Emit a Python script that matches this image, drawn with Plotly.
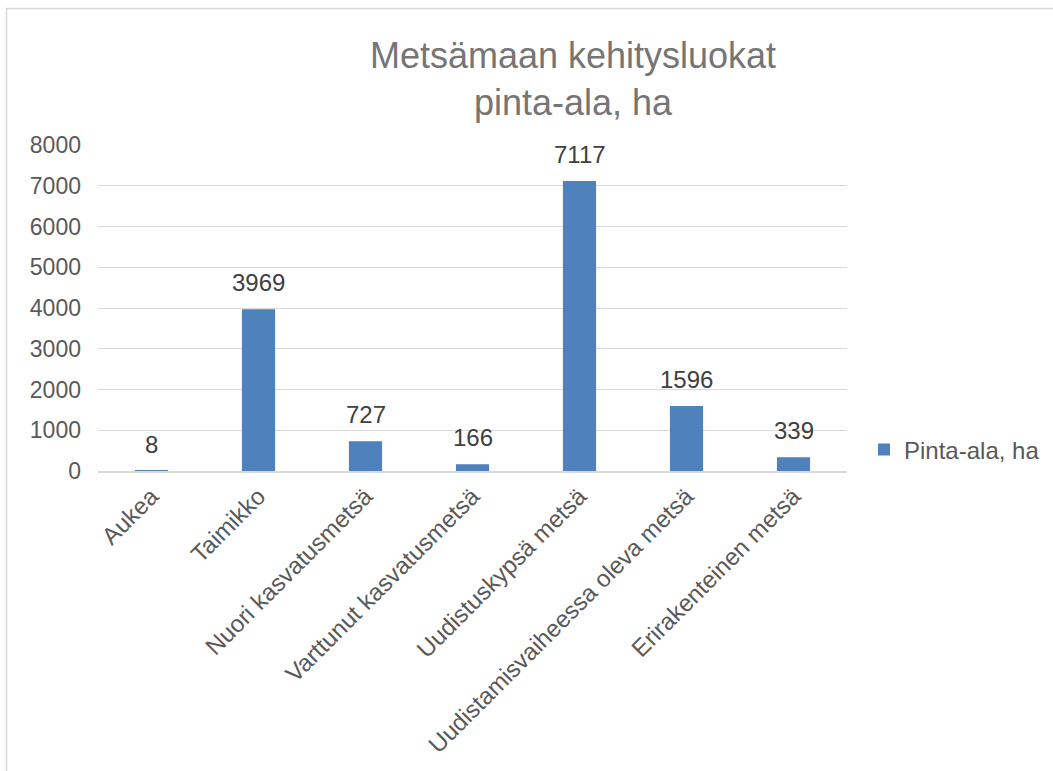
import plotly.graph_objects as go

categories = ["Aukea", "Taimikko", "Nuori kasvatusmetsä", "Varttunut kasvatusmetsä",
              "Uudistuskypsä metsä", "Uudistamisvaiheessa oleva metsä", "Erirakenteinen metsä"]
values = [8, 3969, 727, 166, 7117, 1596, 339]
series_name = "Pinta-ala, ha"
title_lines = ["Metsämaan kehitysluokat", "pinta-ala, ha"]
y_ticks = [0, 1000, 2000, 3000, 4000, 5000, 6000, 7000, 8000]

W, H = 1053, 771
L, R, T, B = 98, 206, 145, 300
pw, ph = W - L - R, H - T - B

FONT = "Liberation Sans, Arial, sans-serif"
bar_color = "#4F81BD"

fig = go.Figure()
fig.add_trace(go.Bar(
    x=categories, y=values, name=series_name,
    marker=dict(color=bar_color, line=dict(width=0)),
    width=0.31,
))

annotations = []
for c, v in zip(categories, values):
    annotations.append(dict(x=c, y=v, xref="x", yref="y", text=str(v), showarrow=False,
                            yanchor="bottom", yshift=11,
                            font=dict(family=FONT, size=24, color="#404040")))

def px_to_paper_x(px):
    return (px - L) / pw

def px_to_paper_y(py):
    return (H - B - py) / ph

shapes = [dict(type="path", xref="paper", yref="paper",
               path=f"M {px_to_paper_x(6.5)} {px_to_paper_y(771)} L {px_to_paper_x(6.5)} {px_to_paper_y(8.5)} L {px_to_paper_x(1053)} {px_to_paper_y(8.5)}",
               line=dict(color="#D9D9D9", width=1.5), layer="below")]

fig.update_layout(
    width=W, height=H,
    margin=dict(l=L, r=R, t=T, b=B, autoexpand=False),
    paper_bgcolor="white", plot_bgcolor="white",
    font=dict(family=FONT, size=23, color="#595959"),
    title=dict(text="<br>".join(title_lines), x=573 / W, xanchor="center", xref="container",
               y=1 - 68 / H, yanchor="top", yref="container",
               font=dict(family=FONT, size=36, color="#757575")),
    xaxis=dict(tickangle=-45, showgrid=False, showline=True, linecolor="#D9D9D9", linewidth=1.5,
               ticks="", tickfont=dict(family=FONT, size=24, color="#595959"), fixedrange=True),
    yaxis=dict(range=[0, 8000], tickvals=y_ticks, showgrid=True, gridcolor="#D9D9D9", gridwidth=1.3,
               zeroline=False, showline=False, ticks="", ticklabelstandoff=16,
               tickfont=dict(family=FONT, size=23, color="#595959")),
    showlegend=True,
    legend=dict(x=px_to_paper_x(864), xanchor="left", y=px_to_paper_y(450), yanchor="middle",
                font=dict(family=FONT, size=24, color="#595959"), bgcolor="rgba(0,0,0,0)"),
    annotations=annotations,
    shapes=shapes,
    bargap=0.69,
)

fig.write_html("out.html", post_script="document.body.style.margin='0';",
               config={"displayModeBar": False})
